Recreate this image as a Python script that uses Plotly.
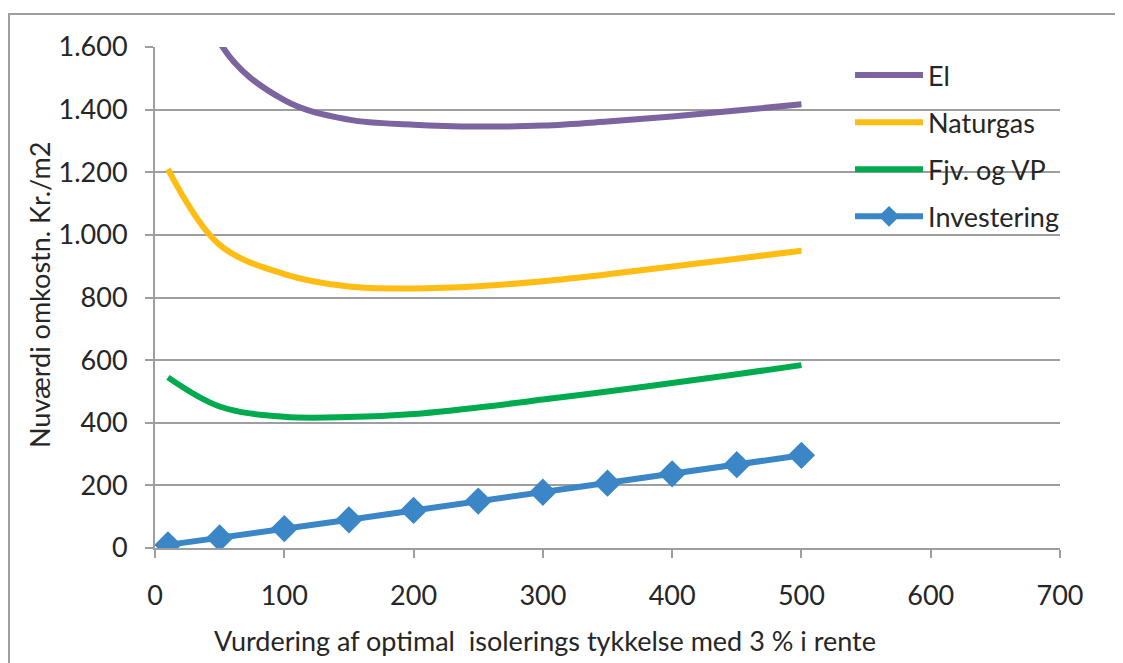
import plotly.graph_objects as go

# Isoleringstykkelse (mm)
tykkelse = [10, 50, 100, 150, 200, 250, 300, 350, 400, 450, 500]

el = [2300, 1615, 1430, 1368, 1352, 1346, 1349, 1362, 1378, 1397, 1417]
naturgas = [1210, 968, 875, 835, 829, 836, 852, 874, 899, 924, 949]
fjv_vp = [545, 452, 419, 418, 428, 449, 474, 500, 527, 555, 584]
investering = [10, 32, 62, 90, 120, 150, 178, 207, 237, 266, 296]

x_ticks = [0, 100, 200, 300, 400, 500, 600, 700]
y_ticks = [0, 200, 400, 600, 800, 1000, 1200, 1400, 1600]
y_labels = ["0", "200", "400", "600", "800", "1.000", "1.200", "1.400", "1.600"]

FONT = "Lato, Calibri, Carlito, sans-serif"
FS = 27
GRID = "#9e9e9e"
TXT = "#262626"

# page sits 8px in from the window corner, so the figure is 8px smaller
W, H = 1115, 655
L, T, PW, PH = 147, 39, 905, 501

fig = go.Figure()
series = [
    ("El", el, "#7B64A0"),
    ("Naturgas", naturgas, "#FFBC12"),
    ("Fjv. og VP", fjv_vp, "#00AA4E"),
]
for name, ys, col in series:
    fig.add_trace(go.Scatter(
        x=tykkelse, y=ys, name=name, legendgroup=name, mode="lines",
        line=dict(color=col, width=6, shape="spline", smoothing=1.0),
    ))

fig.add_trace(go.Scatter(
    x=tykkelse, y=investering, name="Investering", legendgroup="Investering",
    mode="lines+markers",
    line=dict(color="#3A86C6", width=6),
    marker=dict(symbol="diamond", size=21, color="#3A86C6"),
))

fig.update_layout(
    width=W, height=H,
    margin=dict(l=L, r=W - L - PW, t=T, b=H - T - PH),
    paper_bgcolor="white", plot_bgcolor="white",
    font=dict(family=FONT, size=FS, color=TXT),
    showlegend=True,
    legend=dict(
        x=0.768, y=0.992, xanchor="left", yanchor="top",
        bgcolor="rgba(0,0,0,0)", traceorder="grouped", tracegroupgap=9,
        font=dict(family=FONT, size=FS, color=TXT), itemwidth=68,
    ),
    xaxis=dict(
        range=[0, 700], tickvals=x_ticks, showgrid=False, zeroline=False,
        showline=True, linecolor=GRID, linewidth=2,
        ticks="outside", ticklen=8, tickwidth=2, tickcolor=GRID,
        ticklabelstandoff=15, fixedrange=True,
    ),
    yaxis=dict(
        range=[0, 1600], tickvals=y_ticks, ticktext=y_labels,
        showgrid=True, gridcolor=GRID, gridwidth=2, zeroline=False,
        showline=True, linecolor=GRID, linewidth=2,
        ticks="outside", ticklen=8, tickwidth=2, tickcolor=GRID,
        ticklabelstandoff=12, fixedrange=True,
    ),
)

fig.add_annotation(
    text="Nuværdi omkostn. Kr./m2", textangle=-90,
    xref="paper", yref="paper", x=(31 - L) / PW, y=(T + PH - 287) / PH,
    xanchor="center", yanchor="middle", showarrow=False,
    font=dict(family=FONT, size=FS, color=TXT),
)
fig.add_annotation(
    text="Vurdering af optimal  isolerings tykkelse med 3 % i rente",
    xref="paper", yref="paper", x=(537 - L) / PW, y=-(632 - T - PH) / PH,
    xanchor="center", yanchor="middle", showarrow=False,
    font=dict(family=FONT, size=FS, color=TXT),
)

# outer chart frame
fig.add_shape(
    type="rect", xref="paper", yref="paper",
    x0=(1 - L) / PW, x1=(1110 - L) / PW,
    y0=-(H + 40 - T - PH) / PH, y1=(T + PH - 6) / PH,
    line=dict(color=GRID, width=2), layer="below",
)

fig.write_html("out.html")
